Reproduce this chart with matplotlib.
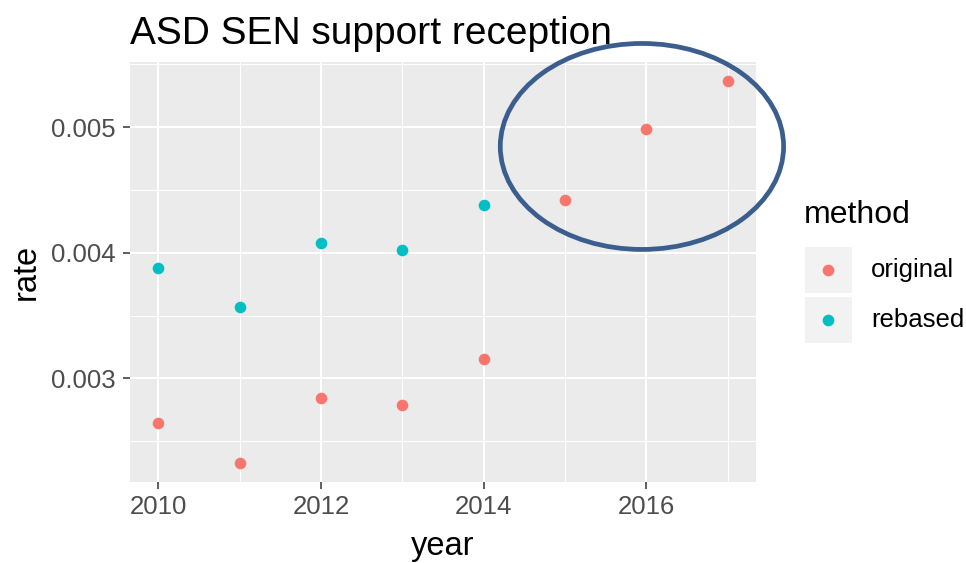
import matplotlib
matplotlib.use("Agg")
import matplotlib.pyplot as plt
from matplotlib.patches import Ellipse, Rectangle
from matplotlib.lines import Line2D

plt.rcParams["font.family"] = ["Liberation Sans", "DejaVu Sans"]

years_original = [2010, 2011, 2012, 2013, 2014, 2015, 2016, 2017]
rate_original = [0.002648, 0.002330, 0.002848, 0.002792, 0.003152, 0.004420, 0.004984, 0.005366]

years_rebased = [2010, 2011, 2012, 2013, 2014]
rate_rebased = [0.003880, 0.003568, 0.004080, 0.004024, 0.004381]

col_original = "#F8766D"
col_rebased = "#00BFC4"

fig = plt.figure(figsize=(9.66, 5.63), dpi=100)
ax = fig.add_axes([130 / 966, 1 - 482 / 563, 626 / 966, 420 / 563])
ax.set_facecolor("#EBEBEB")
for s in ax.spines.values():
    s.set_visible(False)

ax.set_xlim(2009.65, 2017.35)
ax.set_ylim(0.002176, 0.005518)
ax.set_xticks([2010, 2012, 2014, 2016])
ax.set_xticks([2011, 2013, 2015, 2017], minor=True)
ax.set_yticks([0.003, 0.004, 0.005])
ax.set_yticks([0.0025, 0.0035, 0.0045, 0.0055], minor=True)
ax.set_yticklabels(["0.003", "0.004", "0.005"])
ax.grid(which="major", color="white", linewidth=1.5)
ax.grid(which="minor", color="white", linewidth=0.75)
ax.set_axisbelow(True)
ax.tick_params(which="major", length=5, width=1.1, color="#333333",
               labelsize=18.5, labelcolor="#4D4D4D", pad=5)
ax.tick_params(axis="x", which="major", pad=4.5)
ax.tick_params(which="minor", length=0)

ax.scatter(years_original, rate_original, s=70, color=col_original, zorder=3, linewidths=0)
ax.scatter(years_rebased, rate_rebased, s=70, color=col_rebased, zorder=3, linewidths=0)

ax.add_patch(Ellipse((2015.947, 0.004846), 3.485, 0.001639, fill=False,
                     edgecolor="#3B5E8F", linewidth=3.4, clip_on=False, zorder=4))

ax.set_title("ASD SEN support reception", loc="left", fontsize=28, pad=13)
fig.text(443 / 966, 1 - 547 / 563, "year", fontsize=23.5, ha="center", va="center")
fig.text(26 / 966, 1 - 272 / 563, "rate", fontsize=23.5, ha="center", va="center", rotation=90)

# legend
fig.text(804 / 966, 1 - 215 / 563, "method", fontsize=23, ha="left", va="center")
labels = ["original", "rebased"]
colors = [col_original, col_rebased]
for i, (lab, c) in enumerate(zip(labels, colors)):
    top = 247 + i * 50
    fig.add_artist(Rectangle((805 / 966, 1 - (top + 46) / 563), 47 / 966, 46 / 563,
                             transform=fig.transFigure, facecolor="#F2F2F2", edgecolor="none"))
    fig.add_artist(Line2D([828 / 966], [1 - (top + 23) / 563], marker="o", markersize=8.4,
                          color=c, markeredgewidth=0, transform=fig.transFigure))
    fig.text(871 / 966, 1 - (top + 23) / 563, lab, fontsize=18.5, ha="left", va="center")

fig.savefig("out.png", dpi=100)
